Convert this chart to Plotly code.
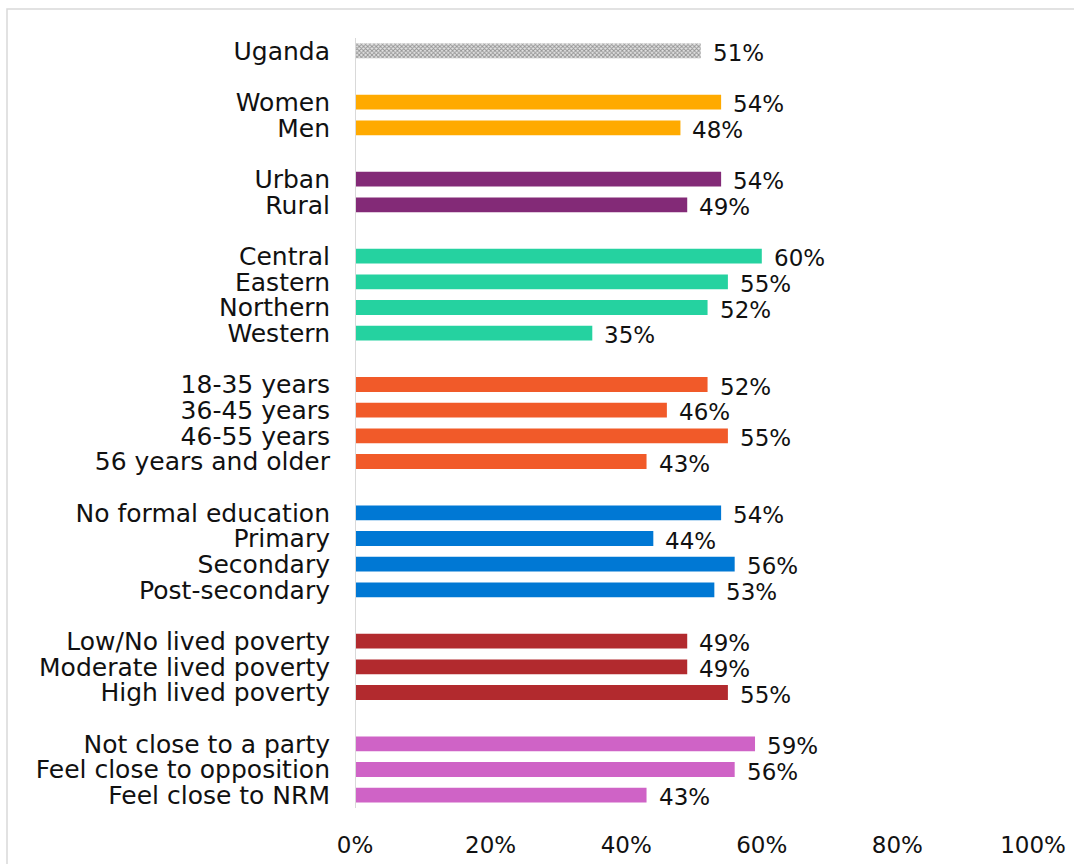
import plotly.graph_objects as go

# Groups of respondents and the share (%) in each
groups = [
    ["Uganda"],
    ["Women", "Men"],
    ["Urban", "Rural"],
    ["Central", "Eastern", "Northern", "Western"],
    ["18-35 years", "36-45 years", "46-55 years", "56 years and older"],
    ["No formal education", "Primary", "Secondary", "Post-secondary"],
    ["Low/No lived poverty", "Moderate lived poverty", "High lived poverty"],
    ["Not close to a party", "Feel close to opposition", "Feel close to NRM"],
]
group_values = [
    [51],
    [54, 48],
    [54, 49],
    [60, 55, 52, 35],
    [52, 46, 55, 43],
    [54, 44, 56, 53],
    [49, 49, 55],
    [59, 56, 43],
]
group_colors = ["#8a8a8a", "#FFAA00", "#832A77", "#25D2A0", "#F15A29",
                "#0078D4", "#B22A2E", "#CF63C6"]

x_ticks = [0, 20, 40, 60, 80, 100]

FONT = "DejaVu Sans"

# Build the row order, leaving one empty slot between groups
rows = []
for gi, g in enumerate(groups):
    if gi > 0:
        rows.append(" " * gi)
    rows.extend(g)

fig = go.Figure()
for gi, (labels, vals, col) in enumerate(zip(groups, group_values, group_colors)):
    marker = dict(color=col, line=dict(width=0))
    if gi == 0:
        marker = dict(color="#c0c0c0", line=dict(width=0),
                      pattern=dict(shape="x", size=3, solidity=0.5,
                                   fgcolor="#3c3c3c", bgcolor="#e4e4e4"))
    fig.add_trace(go.Bar(
        y=labels, x=vals, orientation="h", marker=marker,
        showlegend=False, hoverinfo="skip", width=0.58,
    ))
    for lab, v in zip(labels, vals):
        fig.add_annotation(
            x=v, y=lab, text=f"{v}%", showarrow=False, xanchor="left",
            xshift=10, yshift=-2, font=dict(family=FONT, size=23, color="#111"),
        )

fig.update_layout(
    width=1074, height=864,
    margin=dict(l=355, r=41, t=38, b=56),
    paper_bgcolor="white", plot_bgcolor="white",
    font=dict(family=FONT, size=25, color="#111"),
    bargap=0.42,
    xaxis=dict(range=[0, 100], tickvals=x_ticks,
               ticktext=[f"{t}%" for t in x_ticks], automargin=False,
               showgrid=False, zeroline=False, showline=False,
               ticks="", ticklabelstandoff=21,
               tickfont=dict(family=FONT, size=23, color="#111")),
    yaxis=dict(categoryorder="array", categoryarray=rows, automargin=False,
               range=[len(rows) - 0.5, -0.5], tickvals=rows,
               showgrid=False, zeroline=False, showline=False, ticks="",
               ticklabelstandoff=24,
               tickfont=dict(family=FONT, size=25, color="#111")),
    shapes=[
        # vertical category axis line
        dict(type="line", xref="x", yref="paper", x0=0, x1=0, y0=0, y1=1,
             line=dict(color="#D9D9D9", width=2), layer="above"),
        # outer chart border
        dict(type="rect", xref="paper", yref="paper",
             x0=(7 - 355) / 678, x1=1.2, y0=-0.3, y1=(808 - 9) / 770,
             line=dict(color="#D9D9D9", width=1.5), layer="below"),
    ],
)

fig.write_html("out.html")
